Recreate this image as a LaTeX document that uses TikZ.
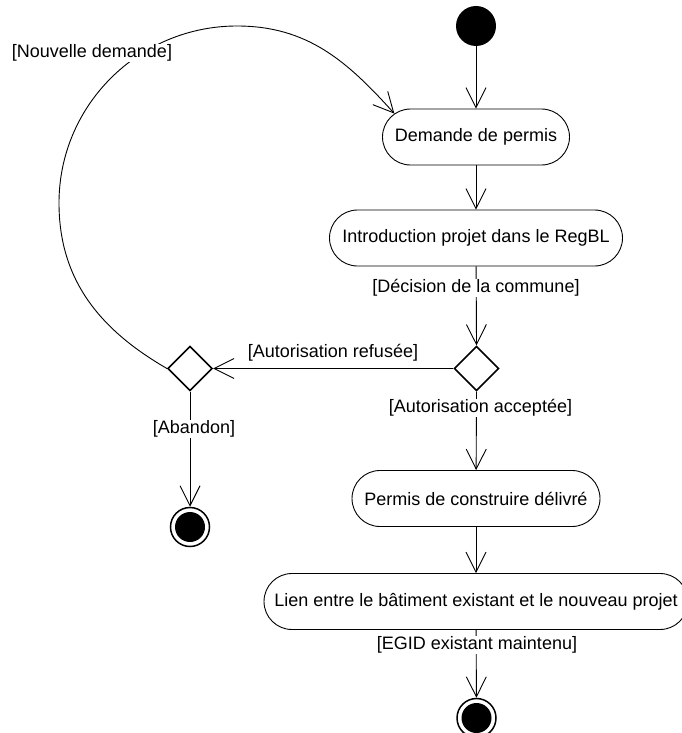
\documentclass[tikz,border=0pt]{standalone}
\usepackage{fontspec}
\setmainfont{Liberation Sans}
\usetikzlibrary{arrows.meta,shapes.geometric,shapes.misc}
% activity text is centred on the shape without widening it
\newcommand\acttext[1]{\makebox[0pt]{#1}}
\begin{document}
\begin{tikzpicture}[x=1pt,y=-1pt,
  every node/.style={font=\fontsize{18}{21}\selectfont},
  activity/.style={rounded rectangle, draw, line width=0.9pt, inner xsep=0pt, inner ysep=0pt, minimum height=56pt},
  decision/.style={diamond, draw, line width=1.5pt, minimum width=44.6pt, minimum height=44.6pt, inner sep=0pt},
  initial/.style={circle, fill=black, minimum size=40pt, inner sep=0pt},
  final/.style={circle, draw, line width=1.5pt, minimum size=39pt, inner sep=0pt,
    path picture={\fill[black] (path picture bounding box.center) circle (15pt);}},
  guard/.style={fill=white, inner sep=1pt},
  flow/.style={draw, line width=0.9pt, -{Straight Barb[length=20pt,width=20pt]}}]
\useasboundingbox (0,0) rectangle (681,733);

% nodes
\node[initial] (start) at (476,26) {};
\node[activity, minimum width=187pt] (dem) at (476,137) {\acttext{Demande de permis}};
\node[activity, minimum width=293pt] (intro) at (476,238) {\acttext{Introduction projet dans le RegBL}};
\node[decision] (d2) at (476.5,368.5) {};
\node[decision] (d1) at (190,368.5) {};
\node[final] (f1) at (190,527) {};
\node[activity, minimum width=248pt] (permis) at (476,498.5) {\acttext{Permis de construire délivré}};
\node[activity, minimum width=424pt] (lien) at (476,601.5) {\acttext{Lien entre le bâtiment existant et le nouveau projet}};
\node[final] (f2) at (476.5,718) {};

% loop-back waypoints
\coordinate (loopL) at (59,203);
\coordinate (loopT) at (237,26);

% flows
\draw[flow] (start) -- (dem);
\draw[flow] (dem) -- (intro);
\draw[flow] (intro) -- (d2.north);
\draw[flow] (d2.west) -- (d1.east);
\draw[flow] (d2.south) -- (permis);
\draw[flow] (d1.south) -- (f1);
\draw[flow] (permis) -- (lien);
\draw[flow] (lien) -- (f2);
\draw[flow] (d1.west) to[out=150,in=-90] (loopL) to[out=90,in=180] (loopT) to[out=0,in=132] (dem.164);

% guards
\node[guard] (gnouv) at (92,53) {[Nouvelle demande]};
\node[guard] (gdec) at (476,288) {[Décision de la commune]};
\node[guard] (gref) at (333,353) {[Autorisation refusée]};
\node[guard] (gacc) at (480.5,408) {[Autorisation acceptée]};
\node[guard] (gab) at (194,429) {[Abandon]};
\node[guard] (gegid) at (477,645) {[EGID existant maintenu]};
\end{tikzpicture}
\end{document}
